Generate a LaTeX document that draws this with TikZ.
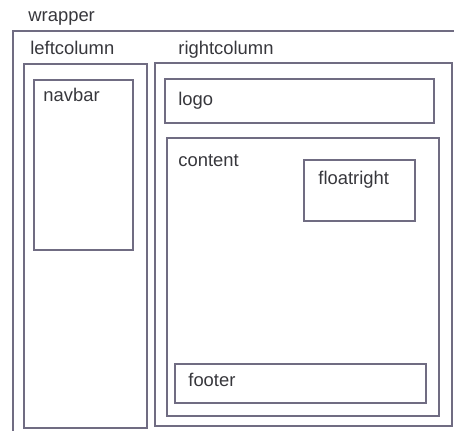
\documentclass[tikz,border=0pt]{standalone}
\usepackage{fontspec}
\setmainfont{Liberation Sans}
\usetikzlibrary{fit}
\definecolor{boxline}{RGB}{112,108,130}
\definecolor{boxtext}{RGB}{55,55,60}
\begin{document}
\begin{tikzpicture}[x=0.5pt, y=-0.5pt,
    box/.style={draw=boxline, line width=0.9pt, inner sep=0pt, outer sep=0pt},
    tag/.style={anchor=base west, inner sep=0pt, text=boxtext, font=\fontsize{9.2}{11}\selectfont}]
    \clip (0,0) rectangle (454,431);

    % boxes
    \node[box, fit={(13,31) (480,460)}] (wrapper) {};
    \node[box, fit={(24,64) (147,428)}] (leftcolumn) {};
    \node[box, fit={(34,80) (133,250)}] (navbar) {};
    \node[box, fit={(155,63) (452,426)}] (rightcolumn) {};
    \node[box, fit={(165,79) (434,123)}] (logo) {};
    \node[box, fit={(167,138) (439,416)}] (content) {};
    \node[box, fit={(304,160) (415,221)}] (floatright) {};
    \node[box, fit={(175,364) (426,403)}] (footer) {};

    % labels
    \node[tag] (wrapperlbl) at ([shift={(15,-9)}]wrapper.north west) {wrapper};
    \node[tag] (leftcolumnlbl) at ([shift={(6,-9)}]leftcolumn.north west) {leftcolumn};
    \node[tag] (rightcolumnlbl) at ([shift={(23,-8)}]rightcolumn.north west) {rightcolumn};
    \node[tag] (navbarlbl) at ([shift={(9,22)}]navbar.north west) {navbar};
    \node[tag] (logolbl) at ([shift={(13,27)}]logo.north west) {logo};
    \node[tag] (contentlbl) at ([shift={(11,29)}]content.north west) {content};
    \node[tag] (floatrightlbl) at ([shift={(14,25)}]floatright.north west) {floatright};
    \node[tag] (footerlbl) at ([shift={(13,23)}]footer.north west) {footer};
\end{tikzpicture}
\end{document}
